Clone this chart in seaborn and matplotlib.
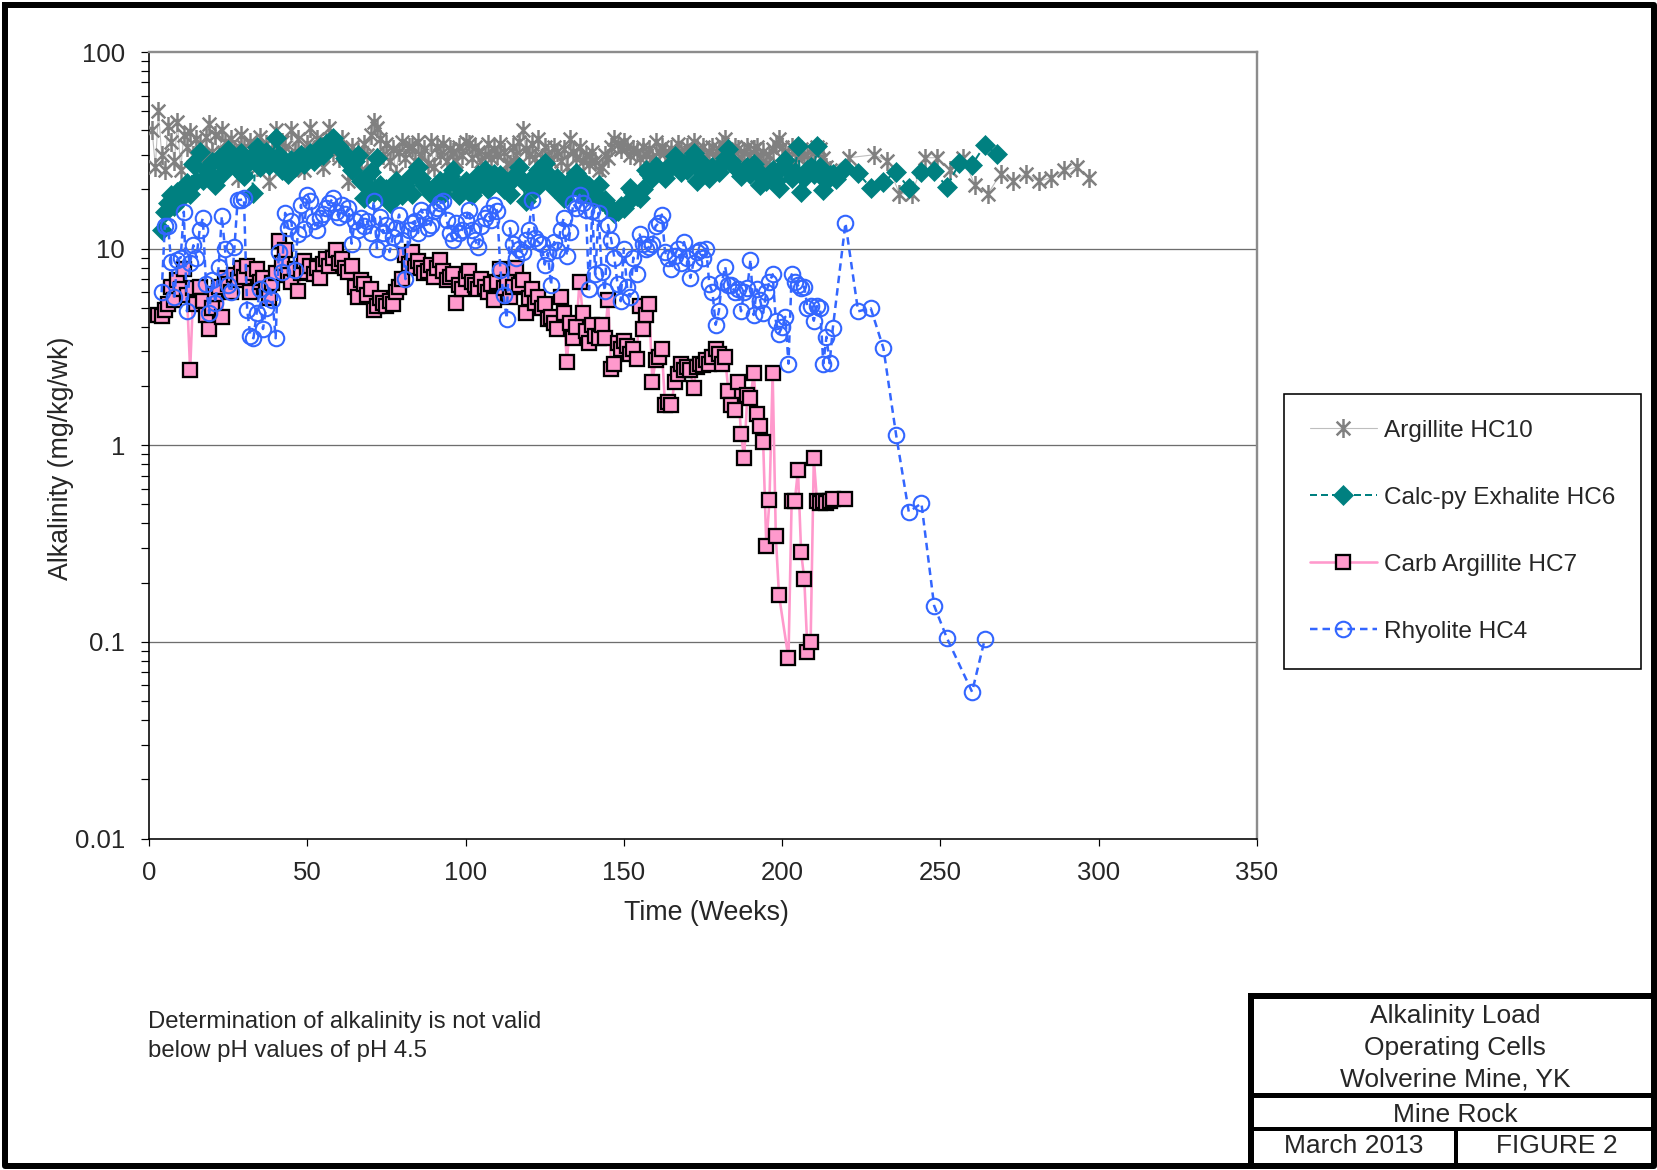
import numpy as np
import pandas as pd
import matplotlib
matplotlib.use("Agg")
import matplotlib.pyplot as plt
from matplotlib.path import Path
from matplotlib.lines import Line2D
from matplotlib.ticker import LogLocator, NullFormatter
import seaborn as sns

sns.set_style("ticks")
plt.rcParams['font.family'] = ['Liberation Sans', 'DejaVu Sans']

# ---------------- data ----------------
series_labels = ["Argillite HC10", "Calc-py Exhalite HC6", "Carb Argillite HC7", "Rhyolite HC4"]

hc10_weeks = list(range(1, 216)) + [221, 229, 233, 237, 241, 245, 249, 253, 257, 261,
                                   265, 269, 273, 277, 281, 285, 289, 293, 297]
hc10_vals = [
    40, 26, 50, 30, 25, 42, 35, 28, 44, 25,
    38, 33, 39, 30, 36, 34, 29, 37, 43, 31,
    38, 27, 40, 35, 30, 36, 32, 23, 38, 33,
    28, 35, 31, 26, 37, 30, 34, 22, 32, 40,
    29, 35, 33, 27, 40, 31, 36, 29, 25, 34,
    41, 30, 36, 33, 26, 35, 41, 31, 34, 29,
    36, 30, 22, 33, 28, 31, 25, 34, 30, 38,
    44, 41, 36, 30, 34, 28, 32, 24, 31, 35,
    29, 33, 33, 28, 35, 30, 32, 27, 35, 26,
    33, 30, 34, 28, 32, 31, 28, 33, 30, 35,
    34, 29, 33, 31, 28, 30, 34, 29, 32, 30,
    34, 31, 27, 27, 33, 30, 35, 40, 32, 30,
    34, 29, 36, 29, 33, 30, 28, 33, 31, 28,
    32, 26, 36, 31, 29, 33, 28, 30, 27, 31,
    28, 25, 26, 30, 29, 33, 36, 34, 32, 35,
    33, 30, 32, 31, 29, 33, 30, 32, 29, 35,
    31, 33, 31, 29, 32, 30, 34, 31, 30, 33,
    31, 35, 32, 30, 33, 29, 31, 33, 30, 32,
    34, 36, 31, 30, 33, 32, 29, 31, 33, 30,
    32, 33, 29, 31, 27, 30, 32, 34, 36, 33,
    31, 30, 33, 31, 29, 32, 30, 30, 28, 31,
    33, 32, 29, 26, 25,
    29, 30, 28, 19, 19, 29, 29, 25, 29, 21, 19, 24, 22, 24, 22, 23, 25, 26, 23]

hc6_weeks = list(range(4, 218)) + [220, 224, 228, 232, 236, 240, 244, 248, 252, 256, 260, 264, 268]
hc6_vals = [
    12.4, 15.4, 17, 18.8, 16.5, 19.5, 18, 20, 21.5, 19,
    27, 22, 31, 22.4, 25, 24, 27.7, 21, 28.8, 24,
    26, 31.6, 27, 28.8, 25, 30.5, 23.3, 27, 29, 19.2,
    32.8, 26, 28.8, 31, 26.6, 29, 36.5, 30, 25.2, 27,
    24, 28.2, 26, 29, 30, 27, 29, 30.6, 28, 31,
    32.8, 30, 34, 33, 36.5, 34, 33, 31.2, 29, 27.7,
    25, 28, 30, 22, 18.1, 21, 24.5, 19.5, 28.8, 21,
    18.8, 20, 17, 19, 22, 20.3, 18.8, 21, 23, 19,
    24, 26, 23, 21, 20, 19, 18.8, 21, 22, 19,
    21, 23.3, 25, 21, 18.8, 20, 22, 21, 18.8, 20,
    23.7, 22, 25, 20, 21, 24, 22, 23.7, 20, 21,
    19, 23, 24, 26, 22, 17.4, 21, 23, 20, 25.2,
    22, 27.1, 24, 22, 20.3, 23, 21, 18, 19.5, 21,
    23, 24.2, 20, 22, 19, 20.7, 19, 18.1, 21, 17.5,
    17.7, 16.5, 16, 15.1, 15.5, 16.5, 16.1, 17, 20.3, 19.5,
    18.5, 18.1, 20, 25.2, 24, 23, 26.2, 25, 24, 22.8,
    25, 27, 29.5, 26, 24.6, 27, 25, 28, 30.5, 22,
    25, 27, 24.6, 23, 26, 25, 24.6, 27, 29, 32,
    28, 26, 25, 23.3, 25, 26, 24, 27, 25, 21,
    23, 22, 23.7, 25, 22, 20.3, 26, 28.2, 25, 23,
    24.6, 33.4, 19.5, 23, 25, 26, 24, 33.4, 26, 19.8,
    22, 23.7, 24, 22.7,
    25.6, 24.2, 20.4, 21.9, 24.6, 20.3, 24.6, 24.8, 20.6, 27.2, 26.7, 33.6, 30.2]

hc7_weeks = list(range(3, 200)) + [202, 203, 204, 205, 206, 207, 208, 209, 210, 211,
                                  212, 213, 214, 215, 216, 220]
hc7_vals = [
    4.6, 4.55, 4.9, 5.2, 6.4, 5.5, 6.9, 6.2, 7.9, 5.8,
    2.4, 6.3, 5.2, 6.4, 5.4, 4.6, 3.9, 5.0, 5.9, 6.4,
    4.5, 7.1, 6.6, 6.0, 7.3, 6.9, 8.0, 7.2, 8.2, 6.0,
    7.5, 7.9, 6.8, 7.1, 6.2, 5.6, 6.7, 7.5, 10.9, 8.5,
    9.8, 7.3, 6.8, 7.9, 6.1, 7.5, 8.7, 7.6, 8.2, 7.4,
    8.0, 7.1, 8.4, 8.9, 8.2, 9.0, 9.8, 8.5, 8.9, 8.0,
    7.6, 8.2, 6.4, 5.7, 6.9, 6.6, 5.8, 6.2, 4.9, 5.1,
    5.6, 5.3, 5.1, 5.4, 5.2, 6.0, 6.4, 7.0, 9.3, 8.4,
    9.6, 8.1, 8.7, 8.0, 7.5, 7.7, 8.3, 7.2, 8.0, 8.8,
    7.7, 6.9, 7.2, 7.4, 5.3, 6.5, 6.2, 7.0, 7.7, 6.8,
    6.5, 6.2, 7.0, 6.4, 6.0, 6.6, 5.5, 6.8, 7.9, 6.3,
    6.8, 5.7, 6.4, 8.0, 6.5, 6.9, 4.7, 5.6, 6.2, 5.3,
    5.7, 5.0, 5.2, 4.4, 4.5, 4.2, 3.9, 5.7, 4.7, 2.66,
    4.2, 3.5, 4.0, 6.8, 4.7, 3.8, 3.3, 4.1, 3.6, 3.5,
    4.1, 3.5, 5.5, 2.45, 2.6, 3.3, 3.1, 3.4, 3.2, 2.9,
    3.1, 2.75, 5.1, 3.9, 4.6, 5.2, 2.1, 2.7, 2.8, 3.1,
    1.6, 1.65, 1.6, 2.1, 2.3, 2.6, 2.4, 2.5, 2.4, 1.95,
    2.5, 2.6, 2.55, 2.7, 2.6, 2.8, 3.1, 2.9, 2.6, 2.8,
    1.89, 1.6, 1.51, 2.1, 1.14, 0.857, 1.8, 1.73, 2.34, 1.45,
    1.25, 1.04, 0.307, 0.526, 2.34, 0.345, 0.173,
    0.0824, 0.52, 0.52, 0.748, 0.285, 0.208, 0.089, 0.1, 0.857, 0.52,
    0.51, 0.52, 0.51, 0.52, 0.53, 0.535]

hc4_weeks = list(range(4, 217)) + [220, 224, 228, 232, 236, 240, 244, 248, 252, 260, 264]
hc4_vals = [
    6.0, 13.0, 13.0, 8.6, 5.7, 8.8, 9.0, 15.4, 4.8, 8.5,
    10.4, 9.0, 12.5, 14.3, 6.6, 4.7, 6.9, 5.3, 8.1, 14.6,
    10.0, 6.5, 6.0, 10.2, 17.7, 17.7, 18.0, 4.9, 3.6, 3.5,
    4.7, 6.2, 3.9, 5.0, 6.5, 5.5, 3.5, 9.6, 7.6, 15.2,
    12.7, 13.8, 7.8, 11.8, 16.7, 12.6, 18.8, 17.4, 13.8, 12.5,
    14.3, 15.0, 16.1, 17.0, 18.0, 15.4, 14.5, 16.7, 15.0, 16.1,
    10.6, 13.8, 12.5, 14.3, 13.0, 13.8, 12.0, 17.4, 10.0, 14.5,
    12.0, 13.2, 9.6, 11.5, 12.7, 14.9, 11.0, 7.0, 12.5, 13.5,
    13.8, 12.0, 15.8, 14.5, 12.8, 13.2, 15.5, 16.0, 17.0, 17.4,
    14.0, 12.0, 11.1, 13.5, 12.0, 12.5, 14.0, 15.8, 12.5, 11.0,
    10.2, 13.0, 14.3, 15.2, 14.0, 16.7, 15.5, 7.8, 5.8, 4.4,
    12.7, 10.5, 9.0, 10.0, 9.6, 11.0, 12.5, 17.7, 11.3, 10.8,
    10.5, 8.3, 9.5, 6.5, 10.8, 9.8, 12.5, 14.3, 9.2, 12.2,
    17.0, 16.0, 18.8, 17.0, 15.8, 6.2, 15.5, 7.4, 15.2, 7.6,
    6.1, 13.2, 11.1, 9.0, 6.6, 5.4, 10.0, 6.4, 5.7, 9.0,
    7.4, 11.8, 10.5, 10.0, 10.2, 10.6, 13.0, 13.5, 14.9, 9.6,
    9.0, 7.9, 9.2, 10.0, 8.5, 10.8, 9.0, 7.1, 8.5, 9.6,
    9.8, 9.0, 10.0, 6.6, 6.0, 4.1, 4.8, 6.8, 8.1, 6.5,
    6.5, 6.0, 6.2, 4.8, 6.0, 6.3, 8.8, 4.6, 6.2, 5.5,
    4.7, 6.0, 6.8, 7.4, 4.3, 3.7, 4.0, 4.5, 2.6, 7.4,
    6.8, 6.5, 6.3, 6.4, 5.0, 5.1, 4.3, 5.1, 5.0, 2.6,
    3.56, 2.61, 3.93,
    13.5, 4.8, 4.97, 3.11, 1.13, 0.459, 0.506, 0.153, 0.105, 0.0557, 0.103]

x_ticks = [0, 50, 100, 150, 200, 250, 300, 350]
y_ticks = [0.01, 0.1, 1, 10, 100]
y_tick_labels = ["0.01", "0.1", "1", "10", "100"]

note_lines = ["Determination of alkalinity is not valid", "below pH values of pH 4.5"]
title_lines = ["Alkalinity Load", "Operating Cells", "Wolverine Mine, YK"]
subtitle = "Mine Rock"
date_text = "March 2013"
figure_text = "FIGURE 2"

# ---------------- figure ----------------
W, H = 1658, 1170
fig = plt.figure(figsize=(W / 100, H / 100), dpi=100)
fig.patch.set_facecolor("white")


def fx(px):
    return px / W


def fy(py):
    return 1 - py / H


PT = 0.72  # points per pixel at 100 dpi

ax = fig.add_axes([fx(149), fy(838.5), fx(1257) - fx(149), fy(52) - fy(838.5)])
ax.set_facecolor("white")
ax.set_yscale("log")

star = Path([(0, -1), (0, 1), (-0.72, -0.72), (0.72, 0.72), (-0.72, 0.72), (0.72, -0.72)],
            [Path.MOVETO, Path.LINETO, Path.MOVETO, Path.LINETO, Path.MOVETO, Path.LINETO])

df10 = pd.DataFrame({"week": hc10_weeks, "alk": hc10_vals})
df6 = pd.DataFrame({"week": hc6_weeks, "alk": hc6_vals})
df7 = pd.DataFrame({"week": hc7_weeks, "alk": hc7_vals})
df4 = pd.DataFrame({"week": hc4_weeks, "alk": hc4_vals})

sns.lineplot(data=df10, x="week", y="alk", ax=ax, estimator=None, sort=False, legend=False,
             color="#BEBEBE", lw=1.1 * PT, marker=star, markersize=19 * PT,
             markeredgecolor="#808080", markerfacecolor="#808080",
             markeredgewidth=2.5 * PT, label=series_labels[0], zorder=3)
sns.lineplot(data=df6, x="week", y="alk", ax=ax, estimator=None, sort=False, legend=False,
             color="#008080", lw=2.0 * PT, linestyle=(0, (3.5, 2.0)), marker="D",
             markersize=13.5 * PT, markeredgecolor="#008080", markerfacecolor="#008080",
             markeredgewidth=0.5, label=series_labels[1], zorder=4)
sns.lineplot(data=df7, x="week", y="alk", ax=ax, estimator=None, sort=False, legend=False,
             color="#FF99CC", lw=2.6 * PT, marker="s", markersize=13.5 * PT,
             markeredgecolor="black", markerfacecolor="#FF99CC",
             markeredgewidth=2.3 * PT, label=series_labels[2], zorder=5)
sns.lineplot(data=df4, x="week", y="alk", ax=ax, estimator=None, sort=False, legend=False,
             color="#3366FF", lw=2.5 * PT, linestyle=(0, (3.0, 2.0)), marker="o",
             markersize=15.5 * PT, markeredgecolor="#3366FF", markerfacecolor="none",
             markeredgewidth=2.1 * PT, label=series_labels[3], zorder=6)

ax.set_xlim(0, 350)
ax.set_ylim(0.01, 100)
ax.set_xticks(x_ticks)
ax.set_xticklabels([str(t) for t in x_ticks])
ax.set_yticks(y_ticks)
ax.set_yticklabels(y_tick_labels)
ax.yaxis.set_minor_locator(LogLocator(base=10, subs=np.arange(2, 10)))
ax.yaxis.set_minor_formatter(NullFormatter())
ax.xaxis.set_minor_locator(plt.NullLocator())

ax.tick_params(axis="y", which="both", direction="out", length=8 * PT, width=1.2 * PT,
               color="black", labelsize=18.5, pad=16 * PT, left=True, right=False)
ax.tick_params(axis="x", which="major", direction="out", length=7 * PT, width=1.2 * PT,
               color="black", labelsize=18.5, pad=16 * PT, bottom=True, top=False)

ax.grid(False)
for yv in [0.1, 1, 10]:
    ax.axhline(yv, color="#6E6E6E", lw=1.3 * PT, zorder=1)

for side in ["left", "bottom"]:
    ax.spines[side].set_color("black")
    ax.spines[side].set_linewidth(1.6 * PT)
for side in ["top", "right"]:
    ax.spines[side].set_color("#8C8C8C")
    ax.spines[side].set_linewidth(2.4 * PT)
    ax.spines[side].set_visible(True)

ax.set_xlabel("Time (Weeks)", fontsize=19.3)
ax.set_ylabel("Alkalinity (mg/kg/wk)", fontsize=19.3)
ax.xaxis.set_label_coords((706 - 149) / 1108, -(913 - 838.5) / 786.5)
ax.xaxis.label.set_va("center")
ax.yaxis.set_label_coords(-(149 - 61) / 1108, (838.5 - 458) / 786.5)
ax.yaxis.label.set_va("center")

# legend
handles, labels = ax.get_legend_handles_labels()
leg = ax.legend(handles, labels, loc="upper left", bbox_to_anchor=(fx(1284), fy(394)),
                bbox_transform=fig.transFigure, frameon=True, fancybox=False,
                edgecolor="black", facecolor="white", fontsize=17.6, handlelength=2.75,
                handletextpad=0.3, labelspacing=1.84, borderpad=1.05, borderaxespad=0,
                numpoints=1, framealpha=1)
leg.get_frame().set_linewidth(1.6 * PT)

# ---------------- frame, title block and note ----------------
def fline(xs, ys, lw):
    fig.add_artist(Line2D([fx(x) for x in xs], [fy(y) for y in ys], transform=fig.transFigure,
                          color="black", lw=lw * PT, solid_capstyle="projecting", zorder=10))


# outer border
fline([5, 1654, 1654, 5, 5], [4.5, 4.5, 1166, 1166, 4.5], 6)
# title block
fline([1251, 1251], [995.5, 1166], 6)
fline([1251, 1658], [995.5, 995.5], 6)
fline([1251, 1658], [1095, 1095], 5)
fline([1251, 1658], [1129, 1129], 4)
fline([1456.5, 1456.5], [1129, 1166], 4)

for txt, yb in zip(title_lines, [1022.5, 1054.5, 1086]):
    fig.text(fx(1455), fy(yb), txt, ha="center", va="baseline", fontsize=19)
fig.text(fx(1455), fy(1121.5), subtitle, ha="center", va="baseline", fontsize=19)
fig.text(fx(1354), fy(1153), date_text, ha="center", va="baseline", fontsize=19)
fig.text(fx(1557), fy(1153), figure_text, ha="center", va="baseline", fontsize=19)

for txt, yb in zip(note_lines, [1028, 1056.5]):
    fig.text(fx(148), fy(yb), txt, ha="left", va="baseline", fontsize=17.2)

fig.savefig("out.png", dpi=100, facecolor="white")
